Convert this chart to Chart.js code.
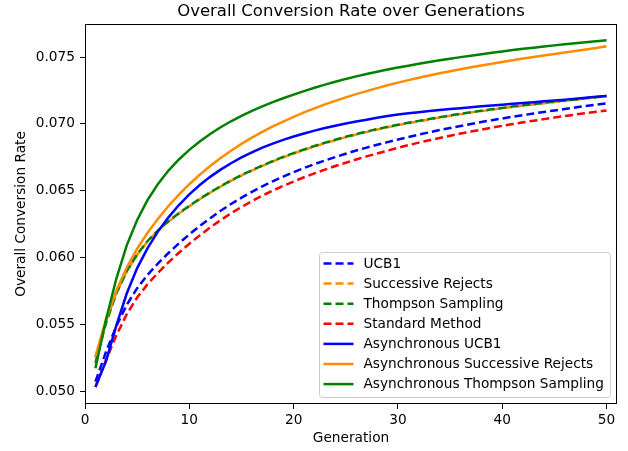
<!DOCTYPE html>
<html>
<head>
<meta charset="utf-8">
<script src="https://cdn.jsdelivr.net/npm/chart.js@4"></script>
<style>
html,body{margin:0;padding:0;background:#fff;}
canvas{display:block;}
</style>
</head>
<body>
<canvas id="c" width="628" height="451"></canvas>
<script>
const generations = [1,2,3,4,5,6,7,8,9,10,11,12,13,14,15,16,17,18,19,20,21,22,23,24,25,26,27,28,29,30,31,32,33,34,35,36,37,38,39,40,41,42,43,44,45,46,47,48,49,50];

const ucb1 = [0.05070,0.05290,0.05485,0.05645,0.05770,0.05870,0.05955,0.06033,0.06105,0.06172,
0.06235,0.06294,0.06349,0.06400,0.06447,0.06491,0.06532,0.06570,0.06605,0.06638,
0.06669,0.06698,0.06725,0.06751,0.06776,0.06800,0.06822,0.06843,0.06863,0.06882,
0.06901,0.06919,0.06936,0.06953,0.06969,0.06984,0.06999,0.07013,0.07027,0.07040,
0.07053,0.07065,0.07077,0.07089,0.07100,0.07111,0.07122,0.07133,0.07143,0.07153];

const successiveRejects = [0.05250,0.05520,0.05735,0.05895,0.06020,0.06120,0.06200,0.06268,0.06328,0.06383,
0.06435,0.06484,0.06530,0.06573,0.06613,0.06650,0.06685,0.06718,0.06749,0.06778,
0.06805,0.06831,0.06855,0.06878,0.06900,0.06920,0.06939,0.06957,0.06974,0.06990,
0.07005,0.07019,0.07033,0.07047,0.07060,0.07072,0.07084,0.07095,0.07106,0.07116,
0.07126,0.07136,0.07145,0.07154,0.07163,0.07172,0.07181,0.07190,0.07199,0.07208];

const thompsonSampling = [0.05210,0.05505,0.05730,0.05897,0.06023,0.06123,0.06203,0.06271,0.06331,0.06386,
0.06438,0.06487,0.06533,0.06576,0.06616,0.06653,0.06688,0.06721,0.06752,0.06781,
0.06808,0.06834,0.06858,0.06881,0.06903,0.06923,0.06942,0.06960,0.06977,0.06993,
0.07008,0.07022,0.07036,0.07050,0.07063,0.07075,0.07087,0.07098,0.07109,0.07119,
0.07129,0.07139,0.07148,0.07157,0.07165,0.07174,0.07182,0.07191,0.07199,0.07208];

const standardMethod = [0.05030,0.05230,0.05415,0.05575,0.05700,0.05800,0.05885,0.05963,0.06035,0.06102,
0.06165,0.06224,0.06279,0.06330,0.06377,0.06421,0.06462,0.06500,0.06535,0.06568,
0.06600,0.06629,0.06657,0.06684,0.06709,0.06733,0.06756,0.06778,0.06799,0.06820,
0.06840,0.06859,0.06877,0.06894,0.06911,0.06927,0.06942,0.06957,0.06971,0.06985,
0.06998,0.07011,0.07023,0.07035,0.07047,0.07058,0.07069,0.07080,0.07090,0.07100];

const asyncUcb1 = [0.05030,0.05220,0.05490,0.05730,0.05920,0.06070,0.06195,0.06300,0.06392,0.06472,
0.06542,0.06603,0.06657,0.06705,0.06748,0.06787,0.06822,0.06852,0.06880,0.06905,
0.06928,0.06949,0.06968,0.06986,0.07002,0.07017,0.07031,0.07045,0.07058,0.07070,
0.07079,0.07087,0.07095,0.07103,0.07110,0.07117,0.07124,0.07131,0.07137,0.07143,
0.07150,0.07156,0.07162,0.07168,0.07174,0.07181,0.07188,0.07195,0.07202,0.07209];

const asyncSuccessiveRejects = [0.05260,0.05530,0.05750,0.05925,0.06065,0.06185,0.06290,0.06385,0.06470,0.06548,
0.06619,0.06684,0.06744,0.06799,0.06850,0.06897,0.06940,0.06980,0.07017,0.07052,
0.07085,0.07116,0.07145,0.07172,0.07198,0.07222,0.07245,0.07267,0.07288,0.07308,
0.07327,0.07345,0.07362,0.07378,0.07394,0.07409,0.07423,0.07437,0.07450,0.07463,
0.07476,0.07488,0.07500,0.07512,0.07523,0.07534,0.07545,0.07556,0.07567,0.07580];

const asyncThompsonSampling = [0.05170,0.05530,0.05840,0.06090,0.06280,0.06430,0.06550,0.06650,0.06733,0.06805,
0.06868,0.06924,0.06974,0.07019,0.07060,0.07097,0.07131,0.07162,0.07191,0.07218,
0.07245,0.07270,0.07293,0.07315,0.07336,0.07355,0.07373,0.07390,0.07406,0.07421,
0.07435,0.07449,0.07462,0.07475,0.07487,0.07499,0.07510,0.07521,0.07532,0.07542,
0.07552,0.07561,0.07570,0.07579,0.07587,0.07595,0.07603,0.07611,0.07618,0.07625];

const seriesNames = ["UCB1","Successive Rejects","Thompson Sampling","Standard Method",
  "Asynchronous UCB1","Asynchronous Successive Rejects","Asynchronous Thompson Sampling"];
const seriesValues = [ucb1, successiveRejects, thompsonSampling, standardMethod,
  asyncUcb1, asyncSuccessiveRejects, asyncThompsonSampling];
const seriesColors = ["#0000ff","#ff8c00","#008000","#ff0000","#0000ff","#ff8c00","#008000"];
const seriesDashed = [true,true,true,true,false,false,false];

const yTickValues = [0.050,0.055,0.060,0.065,0.070,0.075];
const yTickLabels = ["0.050","0.055","0.060","0.065","0.070","0.075"];
const xTickValues = [0,10,20,30,40,50];
const xTickLabels = ["0","10","20","30","40","50"];

const FONT = "'DejaVu Sans', sans-serif";
const FS = 13.7;
const DASH = [8,4];

const datasets = seriesNames.map((name, i) => ({
  label: name,
  data: seriesValues[i].map((v, j) => ({x: generations[j], y: v})),
  borderColor: seriesColors[i],
  backgroundColor: seriesColors[i],
  borderWidth: 2.5,
  borderDash: seriesDashed[i] ? DASH : [],
  pointRadius: 0,
  tension: 0,
  fill: false,
  order: seriesNames.length - i
}));

const framePlugin = {
  id: 'frame',
  afterDatasetsDraw(chart) {
    const a = chart.chartArea;
    const ctx = chart.ctx;
    ctx.save();
    ctx.strokeStyle = '#000';
    ctx.lineWidth = 1;
    ctx.strokeRect(Math.round(a.left) + 0.5, Math.round(a.top) + 0.5,
      Math.round(a.right - a.left) - 1, Math.round(a.bottom - a.top) - 1);
    ctx.restore();
  }
};

const legendPlugin = {
  id: 'boxLegend',
  afterDatasetsDraw(chart) {
    const a = chart.chartArea;
    const ctx = chart.ctx;
    const right = a.right - 6.5, bottom = a.bottom - 6.5;
    const w = 291, h = 145;
    const left = right - w, top = bottom - h;
    ctx.save();
    const r = 3;
    ctx.beginPath();
    ctx.moveTo(left + r, top);
    ctx.lineTo(right - r, top);
    ctx.quadraticCurveTo(right, top, right, top + r);
    ctx.lineTo(right, bottom - r);
    ctx.quadraticCurveTo(right, bottom, right - r, bottom);
    ctx.lineTo(left + r, bottom);
    ctx.quadraticCurveTo(left, bottom, left, bottom - r);
    ctx.lineTo(left, top + r);
    ctx.quadraticCurveTo(left, top, left + r, top);
    ctx.closePath();
    ctx.fillStyle = 'rgba(255,255,255,0.8)';
    ctx.fill();
    ctx.strokeStyle = '#cccccc';
    ctx.lineWidth = 1;
    ctx.stroke();
    ctx.font = FS + "px " + FONT;
    ctx.textBaseline = 'middle';
    ctx.textAlign = 'left';
    chart.data.datasets.forEach((ds, i) => {
      const y = top + 11 + i * 20.1;
      ctx.beginPath();
      ctx.setLineDash(ds.borderDash || []);
      ctx.strokeStyle = ds.borderColor;
      ctx.lineWidth = ds.borderWidth;
      ctx.moveTo(left + 4, y);
      ctx.lineTo(left + 34, y);
      ctx.stroke();
      ctx.setLineDash([]);
      ctx.fillStyle = '#000';
      ctx.fillText(ds.label, left + 44, y + 0.5);
    });
    ctx.restore();
  }
};

new Chart(document.getElementById('c'), {
  type: 'line',
  data: { datasets },
  options: {
    responsive: false,
    animation: false,
    devicePixelRatio: 1,
    layout: { padding: { left: 0, right: 11, top: 0, bottom: 0 } },
    plugins: {
      legend: { display: false },
      tooltip: { enabled: false },
      title: {
        display: true,
        fullSize: false,
        text: 'Overall Conversion Rate over Generations',
        color: '#000',
        font: { family: FONT, size: 16.5, weight: 'normal' },
        padding: { top: 2, bottom: 2.2 }
      }
    },
    scales: {
      x: {
        type: 'linear',
        min: 0,
        max: 51,
        afterFit(s) { s.height = 47; },
        afterBuildTicks(s) { s.ticks = xTickValues.map(v => ({ value: v })); },
        ticks: {
          color: '#000',
          font: { family: FONT, size: FS },
          padding: 3,
          maxRotation: 0,
          autoSkip: false,
          callback: (v) => xTickLabels[xTickValues.indexOf(v)]
        },
        grid: { display: true, drawOnChartArea: false, drawTicks: true, tickLength: 5, color: '#000', tickColor: '#000', tickWidth: 1 },
        border: { display: false },
        title: {
          display: true,
          text: 'Generation',
          color: '#000',
          font: { family: FONT, size: FS },
          padding: { top: 0, bottom: 4.5 }
        }
      },
      y: {
        type: 'linear',
        min: 0.04903,
        max: 0.07747,
        afterFit(s) { s.width = 85; },
        afterBuildTicks(s) { s.ticks = yTickValues.map(v => ({ value: v })); },
        ticks: {
          color: '#000',
          font: { family: FONT, size: FS },
          padding: 5,
          autoSkip: false,
          callback: (v) => yTickLabels[yTickValues.indexOf(v)]
        },
        grid: { display: true, drawOnChartArea: false, drawTicks: true, tickLength: 5, color: '#000', tickColor: '#000', tickWidth: 1 },
        border: { display: false },
        title: {
          display: true,
          text: 'Overall Conversion Rate',
          color: '#000',
          font: { family: FONT, size: FS },
          padding: { top: 13.5, bottom: 0 }
        }
      }
    }
  },
  plugins: [framePlugin, legendPlugin]
});
</script>
</body>
</html>
